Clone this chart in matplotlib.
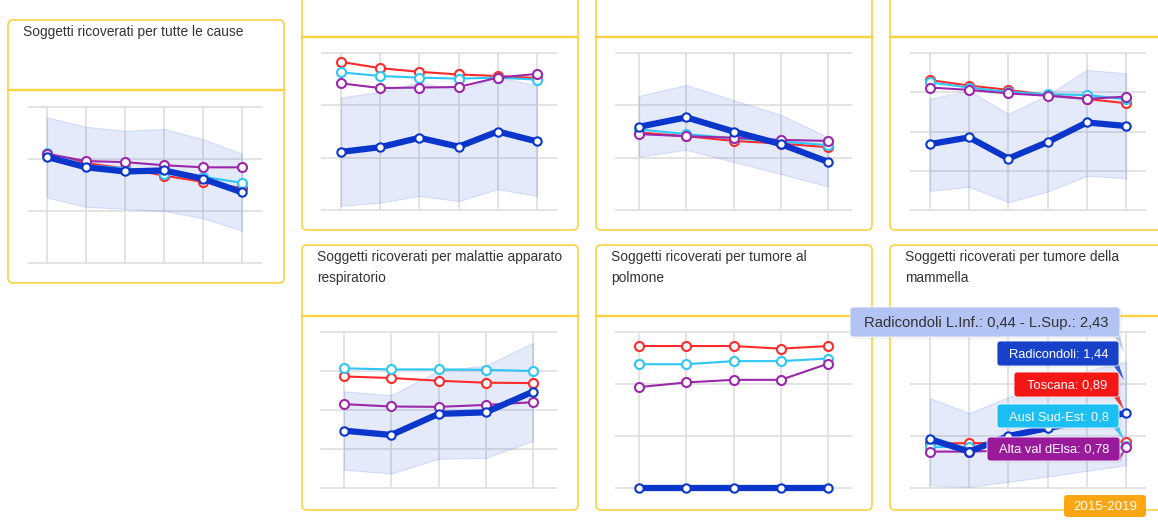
import numpy as np
import matplotlib
matplotlib.use("Agg")
import matplotlib.pyplot as plt
from matplotlib.patches import FancyBboxPatch, Polygon

plt.rcParams['font.family'] = ['Liberation Sans', 'DejaVu Sans']

W, H = 1158, 520

ROSSO = '#ff2b2b'
CIANO = '#2ec6f6'
VIOLA = '#9b27aa'
BLU = '#0a36cc'
BANDA = (0.16, 0.33, 0.86, 0.12)
GRIGLIA = '#e0e0e0'
GIALLO = '#fdd23f'

# --- dati (letti a occhio dal grafico) ---
tutte_rad = [1.02, 0.92, 0.88, 0.89, 0.81, 0.68]
tutte_tos = [1.05, 0.96, 0.91, 0.84, 0.78, 0.72]
tutte_ausl = [1.06, 0.94, 0.91, 0.86, 0.83, 0.77]
tutte_alta = [1.05, 0.98, 0.97, 0.94, 0.92, 0.92]
tutte_inf = [0.63, 0.54, 0.52, 0.50, 0.43, 0.31]
tutte_sup = [1.40, 1.31, 1.27, 1.29, 1.19, 1.05]

b_rad = [1.11, 1.20, 1.38, 1.21, 1.50, 1.31]
b_tos = [2.83, 2.71, 2.64, 2.59, 2.56, 2.52]
b_ausl = [2.63, 2.56, 2.53, 2.51, 2.53, 2.49]
b_alta = [2.42, 2.33, 2.34, 2.35, 2.53, 2.60]
b_inf = [0.08, 0.14, 0.27, 0.17, 0.40, 0.27]
b_sup = [2.15, 2.26, 2.44, 2.29, 2.54, 2.38]

c_rad = [1.59, 1.77, 1.50, 1.26, 0.92]
c_tos = [1.48, 1.41, 1.32, 1.27, 1.20]
c_ausl = [1.54, 1.45, 1.37, 1.31, 1.24]
c_alta = [1.45, 1.41, 1.38, 1.34, 1.32]
c_inf = [1.02, 1.15, 0.92, 0.69, 0.45]
c_sup = [2.18, 2.39, 2.10, 1.82, 1.39]

d_rad = [1.68, 1.85, 1.31, 1.73, 2.23, 2.14]
d_tos = [3.31, 3.17, 3.06, 2.93, 2.83, 2.72]
d_ausl = [3.25, 3.12, 3.01, 2.95, 2.93, 2.82]
d_alta = [3.12, 3.06, 2.97, 2.91, 2.83, 2.89]
d_inf = [0.49, 0.59, 0.20, 0.47, 0.87, 0.81]
d_sup = [2.84, 3.04, 2.45, 2.93, 3.57, 3.48]

resp_rad = [1.47, 1.36, 1.90, 1.94, 2.47]
resp_tos = [2.86, 2.82, 2.75, 2.70, 2.69]
resp_ausl = [3.07, 3.04, 3.04, 3.03, 3.00]
resp_alta = [2.15, 2.09, 2.08, 2.13, 2.20]
resp_inf = [0.47, 0.37, 0.75, 0.77, 1.21]
resp_sup = [2.48, 2.38, 3.01, 3.14, 3.72]

polm_rad = [0, 0, 0, 0, 0]
polm_tos = [2.73, 2.73, 2.73, 2.68, 2.73]
polm_ausl = [2.38, 2.38, 2.44, 2.44, 2.49]
polm_alta = [1.94, 2.03, 2.08, 2.08, 2.39]

mamm_rad = [0.94, 0.70, 1.00, 1.15, 1.30, 1.44]
mamm_tos = [0.86, 0.86, 0.87, 0.88, 0.88, 0.89]
mamm_ausl = [0.79, 0.79, 0.80, 0.80, 0.80, 0.80]
mamm_alta = [0.70, 0.70, 0.72, 0.74, 0.76, 0.78]
mamm_inf = [0.05, 0.02, 0.12, 0.22, 0.33, 0.44]
mamm_sup = [1.73, 1.44, 1.75, 2.05, 2.25, 2.43]

tooltip_testi = ["Radicondoli L.Inf.: 0,44 - L.Sup.: 2,43", "Radicondoli: 1,44",
                 "Toscana: 0,89", "Ausl Sud-Est: 0,8", "Alta val dElsa: 0,78"]
periodo = "2015-2019"


fig = plt.figure(figsize=(W / 100, H / 100), dpi=100)
fig.patch.set_facecolor('white')

sfondo = fig.add_axes([0, 0, 1, 1])
sfondo.set_xlim(0, W)
sfondo.set_ylim(H, 0)
sfondo.axis('off')
sfondo.set_zorder(-1)


def riquadro(x0, y0, x1, y1, y_div, titolo=None):
    sfondo.add_patch(FancyBboxPatch((x0, y0), x1 - x0, y1 - y0,
                                    boxstyle='round,pad=0,rounding_size=5',
                                    fc='white', ec=GIALLO, lw=1.2))
    sfondo.plot([x0, x1], [y_div, y_div], color=GIALLO, lw=1.7)
    if titolo:
        sfondo.text(x0 + 15, y0 + 5, titolo, va='top', ha='left', fontsize=9.9,
                    color='#333333', linespacing=1.6)


def grafico(x0, x1, y_top, y_bot, v_max, passo_v, rad, tos, ausl, alta, inf=None, sup=None):
    n = len(rad)
    passo = (x1 - x0) / (n - 1)
    pad = 8
    left = x0 - passo / 2
    top = y_top - pad
    bottom = y_bot + pad
    ax = fig.add_axes([left / W, 1 - bottom / H, passo * n / W, (bottom - top) / H])
    scala = v_max / (y_bot - y_top)
    ax.set_xlim(-0.5, n - 0.5)
    ax.set_ylim(-pad * scala, v_max + pad * scala)
    ax.axis('off')
    xs = np.arange(n)
    livelli = np.arange(0, v_max + passo_v / 2, passo_v)
    ax.hlines(livelli, -0.5, n - 0.5, color=GRIGLIA, lw=1.3, zorder=1)
    ax.vlines(xs, 0, v_max, color=GRIGLIA, lw=1.3, zorder=1)
    if inf is not None:
        ax.fill_between(xs, inf, sup, facecolor=BANDA, edgecolor=(0.16, 0.33, 0.86, 0.15),
                        lw=0.8, zorder=2)
    for vals, col, lw, ms in [(tos, ROSSO, 1.5, 6.5), (ausl, CIANO, 1.5, 6.5),
                              (alta, VIOLA, 1.5, 6.5), (rad, BLU, 4.5, 6)]:
        ax.plot(xs, vals, color=col, lw=lw, marker='o', ms=ms, mfc='white', mec=col,
                mew=1.5, zorder=3, clip_on=False)
    return ax


# riquadri
riquadro(8, 20, 284, 283, 90, "Soggetti ricoverati per tutte le cause")
riquadro(302, -10, 578, 230, 37)
riquadro(596, -10, 872, 230, 37)
riquadro(890, -10, 1175, 230, 37)
riquadro(302, 245, 578, 510, 316, "Soggetti ricoverati per malattie apparato\nrespiratorio")
riquadro(596, 245, 872, 510, 316, "Soggetti ricoverati per tumore al\npolmone")
riquadro(890, 245, 1175, 510, 316, "Soggetti ricoverati per tumore della\nmammella")

# grafici
grafico(47, 242, 107, 263, 1.5, 0.5, tutte_rad, tutte_tos, tutte_ausl, tutte_alta, tutte_inf, tutte_sup)
grafico(341, 537, 53, 210, 3, 1, b_rad, b_tos, b_ausl, b_alta, b_inf, b_sup)
grafico(639, 828, 53, 210, 3, 1, c_rad, c_tos, c_ausl, c_alta, c_inf, c_sup)
grafico(930, 1126, 53, 210, 4, 1, d_rad, d_tos, d_ausl, d_alta, d_inf, d_sup)
grafico(344, 533, 332, 488, 4, 1, resp_rad, resp_tos, resp_ausl, resp_alta, resp_inf, resp_sup)
grafico(639, 828, 332, 488, 3, 1, polm_rad, polm_tos, polm_ausl, polm_alta)
grafico(930, 1126, 332, 488, 3, 1, mamm_rad, mamm_tos, mamm_ausl, mamm_alta, mamm_inf, mamm_sup)

# tooltip e pulsante in primo piano
fronte = fig.add_axes([0, 0, 1, 1])
fronte.set_xlim(0, W)
fronte.set_ylim(H, 0)
fronte.axis('off')
fronte.set_zorder(10)

scatole = [(850, 307, 1120, 337, '#b3c3f4', '#333333', 1124, 352),
           (997, 341, 1119, 366, '#1741c9', 'white', 1124, 380),
           (1014, 372, 1119, 397, '#f51616', 'white', 1124, 410),
           (997, 404, 1119, 428, '#1bbff3', 'white', 1124, 440),
           (987, 437, 1120, 461, '#991b9c', 'white', 1126, 449)]
for testo, (x0, y0, x1, y1, fc, tc, px, py) in zip(tooltip_testi, scatole):
    fronte.add_patch(Polygon([(x1 - 6, y1 - 1), (x1, y1 - 1), (px, py)], closed=True,
                             fc=fc, ec='none', alpha=0.85))
    fronte.add_patch(FancyBboxPatch((x0 + 1.5, y0 + 1.5), x1 - x0, y1 - y0,
                                    boxstyle='round,pad=0,rounding_size=3',
                                    fc=(0, 0, 0, 0.08), ec='none'))
    fronte.add_patch(FancyBboxPatch((x0, y0), x1 - x0, y1 - y0,
                                    boxstyle='round,pad=0,rounding_size=3',
                                    fc=fc, ec='white', lw=0.6))
    fronte.text((x0 + x1) / 2 + 1, (y0 + y1) / 2 + 1, testo, ha='center', va='center',
                fontsize=10.6 if tc != 'white' else 9.3, color=tc)

fronte.add_patch(FancyBboxPatch((1064, 495), 82, 22, boxstyle='round,pad=0,rounding_size=3',
                                fc='#fca614', ec='none'))
fronte.text(1105, 506.5, periodo, ha='center', va='center', fontsize=9.6, color='white')

fig.savefig('out.png', dpi=100, facecolor='white')
